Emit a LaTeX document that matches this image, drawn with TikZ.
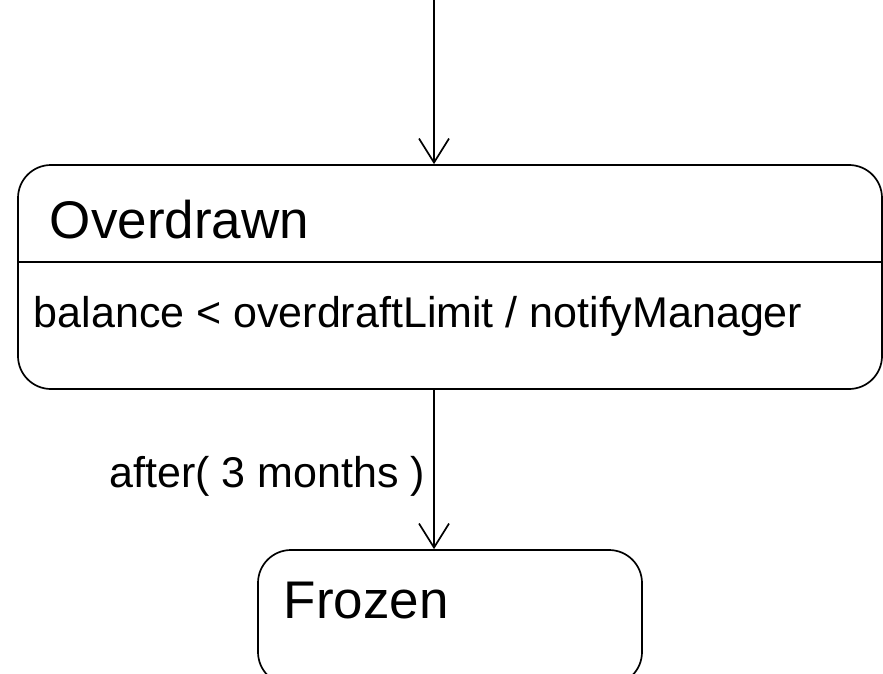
\documentclass[tikz,border=0pt]{standalone}
\usepackage{fontspec}
\setmainfont{Liberation Sans}
\usepackage{tikz}
\usetikzlibrary{arrows.meta, positioning}
\newcommand{\titlesize}{\fontsize{53}{60}\selectfont}
\newcommand{\bodysize}{\fontsize{43}{50}\selectfont}

\begin{document}
\begin{tikzpicture}[x=1pt, y=-1pt, line width=1.7pt,
    statebox/.style={draw, rounded corners=33pt, inner sep=0pt},
    txt/.style={anchor=base west, inner sep=0pt},
    trans/.style={-{Straight Barb[length=24pt, width=30pt, line width=1.7pt]}}]
  \useasboundingbox (0,0) rectangle (883,674);
  \clip (0,0) rectangle (883,674);
  % states
  \node[statebox, minimum width=864pt, minimum height=224pt] (overdrawn) at (450,277) {};
  \node[statebox, minimum width=384pt, minimum height=135pt] (frozen) at (450,617.5) {};
  \draw (overdrawn.west |- 0,262) -- (overdrawn.east |- 0,262);
  % texts
  \node[txt, font=\titlesize] (overdrawnname) at (49,238) {Overdrawn};
  \node[txt, font=\bodysize] (overdrawnact) at (33,327) {balance < overdraftLimit / notifyManager};
  \node[txt, font=\titlesize] (frozenname) at (283,618) {Frozen};
  % transitions
  \coordinate (entry) at (434,0);
  \draw[trans] (entry) -- (entry |- overdrawn.north);
  \draw[trans] (overdrawn.south -| entry) -- (frozen.north -| entry)
    node[pos=0.615, anchor=base east, xshift=-8pt, font=\bodysize, inner sep=0pt] (guard) {after( 3 months )};
\end{tikzpicture}
\end{document}
